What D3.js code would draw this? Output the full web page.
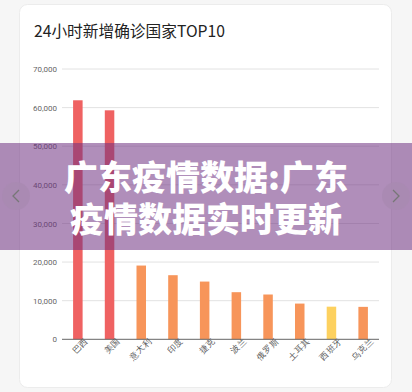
<!DOCTYPE html>
<html><head><meta charset="utf-8">
<script src="https://cdn.jsdelivr.net/npm/d3@7/dist/d3.min.js"></script>
<style>
html,body{margin:0;padding:0;background:#f6f6f6;}
svg{display:block;font-family:"Noto Sans CJK SC","Noto Sans",sans-serif;}
</style></head><body>
<svg id="c" width="412" height="392"></svg>
<script>
const categories = ["巴西","美国","意大利","印度","捷克","波兰","俄罗斯","土耳其","西班牙","乌克兰"];
const values = [61900, 59300, 19100, 16600, 14950, 12200, 11600, 9250, 8450, 8400];
const barColors = ["#ef6262","#ef6262","#f7955a","#f7955a","#f7955a","#f7955a","#f7955a","#f7955a","#fdd15f","#f7955a"];
const yTicks = [0,10000,20000,30000,40000,50000,60000,70000];
const title = "24小时新增确诊国家TOP10";
const overlayLines = ["广东疫情数据:广东","疫情数据实时更新"];

const svg = d3.select("#c");
// card
svg.append("rect").attr("x",19.5).attr("y",4.5).attr("width",372).attr("height",383)
  .attr("rx",8).attr("fill","#fff").attr("stroke","#ececec");

svg.append("text").attr("x",34).attr("y",37).attr("font-size",15.7).attr("fill","#222")
  .text(title);

const x = d3.scaleBand().domain(categories).range([62,379]).paddingInner(0.7).paddingOuter(0.35);
const y = d3.scaleLinear().domain([0,70000]).range([339.3,69]);

// grid
const g = svg.append("g");
g.selectAll("line.grid").data(yTicks.slice(1)).join("line")
  .attr("x1",62).attr("x2",379).attr("y1",d=>y(d)).attr("y2",d=>y(d))
  .attr("stroke","#e2e2e2").attr("stroke-width",1);

const yAxis = d3.axisLeft(y).tickValues(yTicks).tickSize(0).tickPadding(5)
  .tickFormat(d3.format(","));
const ya = svg.append("g").attr("transform","translate(62,0)").call(yAxis);
ya.select(".domain").remove();
ya.selectAll("text").attr("font-size",8).attr("fill","#666")
  .attr("font-family","Roboto,'Noto Sans',sans-serif");

// bars
svg.selectAll("rect.bar").data(values).join("rect")
  .attr("x",(d,i)=>x(categories[i])).attr("width",x.bandwidth())
  .attr("y",d=>y(d)).attr("height",d=>y(0)-y(d))
  .attr("fill",(d,i)=>barColors[i]);

// x axis
const xAxis = d3.axisBottom(x).tickSize(0).tickPadding(6);
const xa = svg.append("g").attr("transform",`translate(0,${y(0)})`).call(xAxis);
xa.select(".domain").attr("stroke","#666").attr("d","M62,0H379");
xa.selectAll("text").attr("font-size",8.5).attr("fill","#555")
  .attr("text-anchor","end").attr("dx","0.7em").attr("dy","0.4em")
  .attr("transform","rotate(-45)");

// overlay banner
svg.append("rect").attr("x",0).attr("y",143).attr("width",412).attr("height",107)
  .attr("fill","rgb(112,50,130)").attr("fill-opacity",0.55);
// arrows
[[16,"M19,190 L13,196 L19,202"],[396,"M393,190 L399,196 L393,202"]].forEach(([cx,p])=>{
  svg.append("circle").attr("cx",cx).attr("cy",196).attr("r",14).attr("fill","#a98ab1").attr("opacity",0.8);
  svg.append("path").attr("d",p).attr("fill","none").attr("stroke","#777").attr("stroke-width",1.3);
});
svg.selectAll("text.ov").data(overlayLines).join("text").attr("class","ov")
  .attr("x",206).attr("y",(d,i)=>190+i*42).attr("text-anchor","middle")
  .attr("font-size",34).attr("font-weight",900).attr("fill","#fff")
  .text(d=>d);
</script></body></html>
